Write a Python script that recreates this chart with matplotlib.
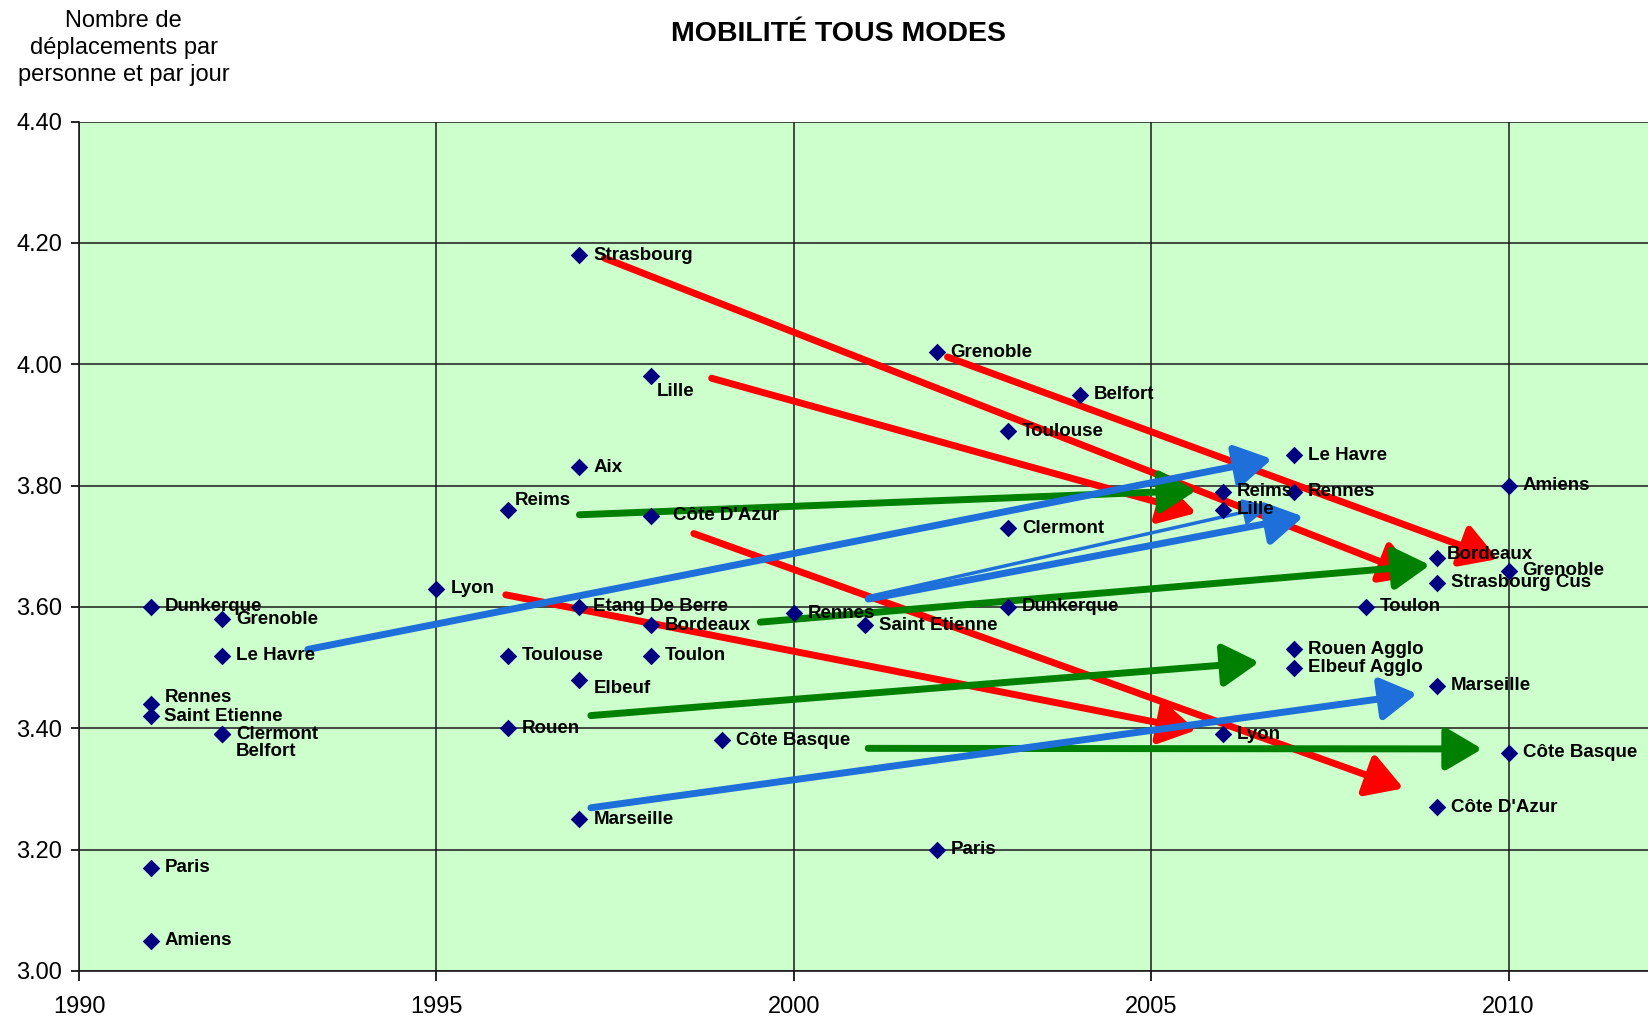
import matplotlib
matplotlib.use("Agg")
import matplotlib.pyplot as plt

plt.rcParams['font.family'] = ['Liberation Sans', 'DejaVu Sans']

# villes / annee d'enquete / deplacements par personne et par jour
villes = ["Dunkerque", "Rennes", "Saint Etienne", "Paris", "Amiens",
          "Grenoble", "Le Havre", "Clermont", "Belfort",
          "Lyon",
          "Reims", "Toulouse", "Rouen",
          "Strasbourg", "Aix", "Etang De Berre", "Elbeuf", "Marseille",
          "Lille", "Côte D'Azur", "Bordeaux", "Toulon",
          "Côte Basque",
          "Rennes",
          "Saint Etienne",
          "Grenoble", "Paris",
          "Toulouse", "Clermont", "Dunkerque",
          "Belfort",
          "Reims", "Lille", "Lyon",
          "Le Havre", "Rennes", "Rouen Agglo", "Elbeuf Agglo",
          "Toulon",
          "Bordeaux", "Strasbourg Cus", "Marseille", "Côte D'Azur",
          "Amiens", "Grenoble", "Côte Basque"]
annees = [1991, 1991, 1991, 1991, 1991,
          1992, 1992, 1992, 1992,
          1995,
          1996, 1996, 1996,
          1997, 1997, 1997, 1997, 1997,
          1998, 1998, 1998, 1998,
          1999,
          2000,
          2001,
          2002, 2002,
          2003, 2003, 2003,
          2004,
          2006, 2006, 2006,
          2007, 2007, 2007, 2007,
          2008,
          2009, 2009, 2009, 2009,
          2010, 2010, 2010]
depl = [3.60, 3.44, 3.42, 3.17, 3.05,
        3.58, 3.52, 3.39, 3.39,
        3.63,
        3.76, 3.52, 3.40,
        4.18, 3.83, 3.60, 3.48, 3.25,
        3.98, 3.75, 3.57, 3.52,
        3.38,
        3.59,
        3.57,
        4.02, 3.20,
        3.89, 3.73, 3.60,
        3.95,
        3.79, 3.76, 3.39,
        3.85, 3.79, 3.53, 3.50,
        3.60,
        3.68, 3.64, 3.47, 3.27,
        3.80, 3.66, 3.36]

# fleches : (annee debut, valeur debut, annee fin, valeur fin)
fleches_rouges = [(1997.35, 4.175, 2008.72, 3.651),
                  (2002.15, 4.012, 2009.85, 3.679),
                  (1998.85, 3.977, 2005.63, 3.755),
                  (1998.60, 3.721, 2008.53, 3.301),
                  (1995.97, 3.620, 2005.63, 3.397)]
fleches_vertes = [(1997.00, 3.752, 2005.63, 3.792),
                  (1999.53, 3.575, 2008.90, 3.669),
                  (1997.16, 3.421, 2006.51, 3.509),
                  (2001.04, 3.367, 2009.63, 3.366)]
fleches_bleues = [(1993.20, 3.530, 2006.69, 3.844),
                  (2001.04, 3.613, 2007.13, 3.749),
                  (1997.16, 3.269, 2008.72, 3.457)]
fleches_bleues_fines = [(2001.04, 3.617, 2006.66, 3.766)]

# decalage des etiquettes (points) quand ce n'est pas a droite
decalages = {1: (10, 5), 8: (10, -12.5), 10: (5, 7), 16: (10, -6),
             18: (4, -11), 19: (16, 0), 39: (7, 3)}


def fleche(ax, f, couleur, lw=5, hl=1.1, hw=0.65, ms=20):
    ax.annotate("", xy=(f[2], f[3]), xytext=(f[0], f[1]),
                arrowprops=dict(arrowstyle="-|>,head_length=%s,head_width=%s" % (hl, hw),
                                color=couleur, lw=lw, mutation_scale=ms,
                                shrinkA=0, shrinkB=0),
                zorder=4)


def main():
    fig = plt.figure(figsize=(16.48, 10.16), dpi=100)
    ax = fig.add_axes([0.048, 0.0443, 0.952, 0.836])
    ax.set_facecolor("#CCFFCC")

    ax.scatter(annees, depl, marker="D", s=80, color="#000080", zorder=5, linewidths=0)
    for i, (nom, x, y) in enumerate(zip(villes, annees, depl)):
        dx, dy = decalages.get(i, (10, 0))
        ax.annotate(nom, (x, y), xytext=(dx, dy), textcoords="offset points",
                    ha="left", va="center", fontsize=13.5, fontweight="bold",
                    color="black", zorder=6)

    for f in fleches_rouges:
        fleche(ax, f, "#FF0000")
    for f in fleches_vertes:
        fleche(ax, f, "#008000")
    for f in fleches_bleues:
        fleche(ax, f, "#1E6FD9")
    for f in fleches_bleues_fines:
        fleche(ax, f, "#1E6FD9", lw=2.5, hl=1.0, hw=0.5, ms=16)

    ax.set_xlim(1990, 2011.95)
    ax.set_ylim(3.0, 4.4)
    ax.set_xticks([1990, 1995, 2000, 2005, 2010])
    ax.set_yticks([3.0, 3.2, 3.4, 3.6, 3.8, 4.0, 4.2, 4.4])
    ax.set_yticklabels(["%.2f" % v for v in ax.get_yticks()])
    ax.tick_params(axis="x", labelsize=17, length=7, pad=11, width=1.2)
    ax.tick_params(axis="y", labelsize=17, length=6, pad=6, width=1.2)
    ax.grid(True, color="#1a1a1a", lw=1.1)
    ax.set_axisbelow(True)
    for s in ["top", "right"]:
        ax.spines[s].set_visible(False)
    for s in ["left", "bottom"]:
        ax.spines[s].set_color("#1a1a1a")
        ax.spines[s].set_linewidth(1.2)

    fig.text(0.509, 0.967, "MOBILITÉ TOUS MODES", ha="center", va="center",
             fontsize=20.5, fontweight="bold")
    fig.text(0.075, 0.953, "Nombre de\ndéplacements par\npersonne et par jour",
             ha="center", va="center", fontsize=17, linespacing=1.3)

    fig.savefig("out.png", dpi=100)


main()
